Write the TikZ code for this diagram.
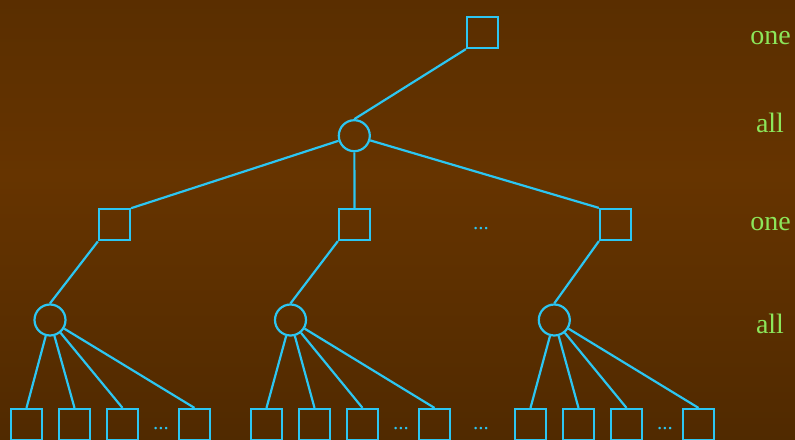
\documentclass[tikz,border=0pt]{standalone}
\usepackage{fontspec}
\setmainfont{Liberation Serif}
\definecolor{cyanl}{HTML}{2CC6F2}
\definecolor{lgreen}{HTML}{8CE65A}
\definecolor{bgtop}{HTML}{4A2700}
\definecolor{bgmid}{HTML}{663400}
\definecolor{bgbot}{HTML}{3E2100}
\pgfdeclareverticalshading{bgsh}{100bp}{color(0bp)=(bgbot); color(55bp)=(bgmid); color(100bp)=(bgtop)}
\begin{document}
\begin{tikzpicture}[x=1pt,y=-1pt,
  ln/.style={draw=cyanl,line width=2.2pt},
  sq/.style={draw=cyanl,line width=2.2pt,minimum size=31pt,inner sep=0pt},
  cir/.style={draw=cyanl,line width=2.2pt,circle,minimum size=31pt,inner sep=0pt},
  lbl/.style={text=lgreen,font=\fontsize{28}{30}\selectfont,anchor=base},
  dotsl/.style={text=cyanl,font=\fontsize{21}{22}\selectfont,anchor=base}]
\useasboundingbox (0,0) rectangle (795,439);
\shade[shading=bgsh] (0,0) rectangle (795,439);
% nodes
\node[sq] (t) at (482.5,32.5) {};
\node[cir] (c) at (354.3,135.7) {};
\node[sq] (s1) at (114.5,224.8) {};
\node[sq] (s2) at (354.5,224.5) {};
\node[sq] (s3) at (615.5,224.5) {};
\node[cir] (g1) at (50,320) {};
\node[cir] (g2) at (290.5,320) {};
\node[cir] (g3) at (554.3,320) {};
\foreach \g/\x in {1/10,2/250,3/514}{
  \node[sq] (b\g1) at (\x+16.5,424.5) {};
  \node[sq] (b\g2) at (\x+64.5,424.5) {};
  \node[sq] (b\g3) at (\x+112.5,424.5) {};
  \node[sq] (b\g4) at (\x+184.5,424.5) {};
}
% connectors
\draw[ln] (t.south west) -- (c.north);
\draw[ln] (c) -- (s1.north east);
\draw[ln] (c) -- (s2.north);
\draw[ln] (c) -- (s3.north west);
\draw[ln] (s1.south west) -- (g1.north);
\draw[ln] (s2.south west) -- (g2.north);
\draw[ln] (s3.south west) -- (g3.north);
\foreach \g in {1,2,3}{
  \foreach \k in {1,2,3,4}{
    \draw[ln] (g\g) -- (b\g\k.north);
  }
}
% dots
\node[dotsl] (d0) at (481,229) {...};
\node[dotsl] (d1) at (161,429) {...};
\node[dotsl] (d2) at (401,429) {...};
\node[dotsl] (d3) at (481,429) {...};
\node[dotsl] (d4) at (665,429) {...};
% labels
\node[lbl] (l1) at (770.5,44) {one};
\node[lbl] (l2) at (770,132) {all};
\node[lbl] (l3) at (770.5,230) {one};
\node[lbl] (l4) at (770,333) {all};
\end{tikzpicture}
\end{document}
